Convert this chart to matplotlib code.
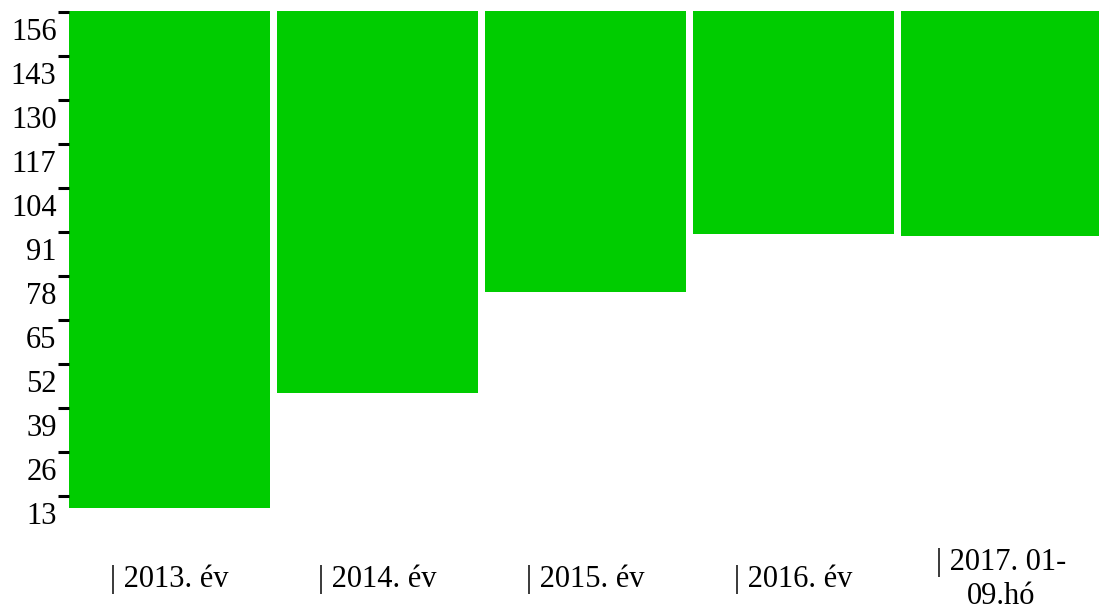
import matplotlib.pyplot as plt
import matplotlib.transforms as mtransforms

# data
categories = ['| 2013. év', '| 2014. év', '| 2015. év', '| 2016. év', '| 2017. 01-\n09.hó']
values = [9.5, 43.5, 73.3, 90.5, 89.9]
top_val = 156.4
yticks = [13, 26, 39, 52, 65, 78, 91, 104, 117, 130, 143, 156]

plt.rcParams['font.family'] = ['Liberation Serif', 'DejaVu Serif']

fig = plt.figure(figsize=(10.99, 6.06), dpi=100)
ax = fig.add_axes([69/1099, 76/606, 1030/1099, 519/606])

x = list(range(len(categories)))
heights = [top_val - v for v in values]
ax.bar(x, heights, bottom=values, width=0.966, color='#00cc00')

ax.set_xlim(-0.483, -0.483 + 1030/208)
ax.set_ylim(2.94, top_val)

for s in ax.spines.values():
    s.set_visible(False)

ax.set_yticks(yticks)
ax.set_yticklabels([str(t) for t in yticks], fontsize=22)
ax.tick_params(axis='y', direction='out', length=8, width=2.2, pad=1, color='black')
off = mtransforms.ScaledTranslation(0, -4/72, fig.dpi_scale_trans)
for lab in ax.get_yticklabels():
    lab.set_va('top')
    lab.set_transform(lab.get_transform() + off)

ax.set_xticks(x)
ax.set_xticklabels(categories, fontsize=22, linespacing=1.2)
ax.tick_params(axis='x', length=0, pad=35.5)
for lab in ax.get_xticklabels():
    lab.set_va('center')

plt.savefig('out.png', dpi=100)
